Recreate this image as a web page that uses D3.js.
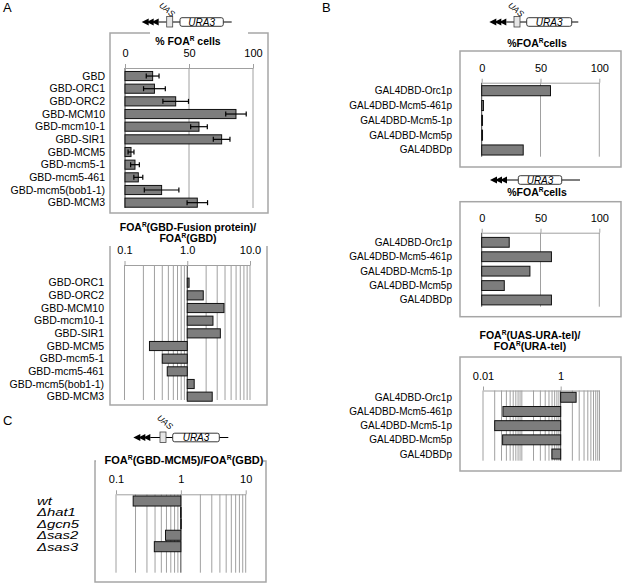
<!DOCTYPE html>
<html><head><meta charset="utf-8">
<script src="https://cdn.jsdelivr.net/npm/d3@7"></script>
<style>body{margin:0;background:#fff} text{font-family:"Liberation Sans",Arial,Helvetica,sans-serif}</style>
</head><body><svg id="c" width="624" height="584"></svg>
<script>
// ---------- DATA ----------
const a1Categories = ["GBD","GBD-ORC1","GBD-ORC2","GBD-MCM10","GBD-mcm10-1","GBD-SIR1","GBD-MCM5","GBD-mcm5-1","GBD-mcm5-461","GBD-mcm5(bob1-1)","GBD-MCM3"];
const a1Values = [21.6, 23, 39.6, 86.7, 57.8, 75.5, 4.7, 7.8, 10.4, 28.6, 56.5];
const a1Errors = [5, 8.5, 10, 8, 6.5, 6.5, 2.3, 3.4, 3.5, 13.5, 8];
const a1Ticks = [0, 50, 100];

const a2Categories = ["", "GBD-ORC1","GBD-ORC2","GBD-MCM10","GBD-mcm10-1","GBD-SIR1","GBD-MCM5","GBD-mcm5-1","GBD-mcm5-461","GBD-mcm5(bob1-1)","GBD-MCM3"];
const a2Values = [null, 1.07, 1.8, 3.85, 2.57, 3.37, 0.25, 0.40, 0.48, 1.29, 2.5];
const a2Ticks = [0.1, 1, 10];
const a2TickLabels = ["0.1", "1.0", "10.0"];

const bCategories = ["GAL4DBD-Orc1p","GAL4DBD-Mcm5-461p","GAL4DBD-Mcm5-1p","GAL4DBD-Mcm5p","GAL4DBDp"];
const b1Values = [58.5, 1.5, 0.7, 0.7, 35.3];
const b2Values = [23.4, 59.3, 41, 19.2, 59.3];
const b3Values = [2.5, 0.0326, 0.02, 0.032, 0.595];
const bTicks = [0, 50, 100];
const b3Ticks = [0.01, 1];
const b3TickLabels = ["0.01", "1"];

const cCategories = ["wt","\u0394hat1","\u0394gcn5","\u0394sas2","\u0394sas3"];
const cValues = [0.184, 0.99, 0.995, 0.58, 0.39];
const cTicks = [0.1, 1, 10];
const cTickLabels = ["0.1", "1", "10"];

// ---------- DRAW ----------
const svg = d3.select("#c");
const BAR_FILL = "#7d7d7d", BOX = "#a6a6a6", GRID = "#a0a0a0", AXIS_DARK = "#404040";

function richText(g, x, y, str, size, weight, anchor) {
  const t = g.append("text").attr("x", x).attr("y", y).attr("font-size", size)
    .attr("font-weight", weight || "normal").attr("text-anchor", anchor || "middle");
  const parts = str.split("^R");
  parts.forEach((p, i) => {
    if (i > 0) {
      t.append("tspan").attr("font-size", size * 0.62).attr("dy", -size * 0.38).text("R");
      t.append("tspan").attr("dy", size * 0.38).text(p);
    } else t.append("tspan").text(p);
  });
  return t;
}

function frame(x0, y0, x1, y1) {
  svg.append("rect").attr("x", x0).attr("y", y0).attr("width", x1 - x0).attr("height", y1 - y0)
    .attr("fill", "none").attr("stroke", BOX).attr("stroke-width", 1.5);
}
function whiteBg(x0, y0, x1, y1) {
  svg.append("rect").attr("x", x0).attr("y", y0).attr("width", x1 - x0).attr("height", y1 - y0).attr("fill", "#fff");
}

function barChart(o) {
  const g = svg.append("g");
  const y = d3.scaleBand().domain(o.cats).range(o.yRange).paddingInner(o.pad).paddingOuter(o.pad / 2);
  const x = o.x;
  g.selectAll(".grid").data(o.grid).join("line")
    .attr("x1", d => x(d)).attr("x2", d => x(d))
    .attr("y1", o.axisY).attr("y2", o.gridBottom)
    .attr("stroke", d => d === o.base ? AXIS_DARK : GRID).attr("stroke-width", 1);
  const ax = d3.axisTop(x).tickValues(o.ticks).tickSize(4).tickSizeOuter(0).tickPadding(7)
    .tickFormat((d, i) => o.tickLabels[i]);
  const axg = g.append("g").attr("transform", `translate(0,${o.axisY})`).call(ax);
  axg.select(".domain").attr("stroke", GRID);
  axg.selectAll(".tick line").attr("stroke", GRID);
  axg.selectAll(".tick text").attr("font-size", 11).attr("fill", "#000")
    .attr("font-family", '"Liberation Sans",Arial,sans-serif');
  const data = o.cats.map((c, i) => ({ c, v: o.vals[i], e: o.errs ? o.errs[i] : null }));
  g.selectAll(".bar").data(data.filter(d => d.v != null)).join("rect")
    .attr("x", d => Math.min(x(d.v), x(o.base)))
    .attr("width", d => Math.max(0.6, Math.abs(x(d.v) - x(o.base))))
    .attr("y", d => y(d.c)).attr("height", y.bandwidth())
    .attr("fill", BAR_FILL).attr("stroke", "#111").attr("stroke-width", 1);
  if (o.errs) {
    const eg = g.selectAll(".err").data(data).join("g");
    eg.append("line").attr("x1", d => x(d.v - d.e)).attr("x2", d => x(d.v + d.e))
      .attr("y1", d => y(d.c) + y.bandwidth() / 2).attr("y2", d => y(d.c) + y.bandwidth() / 2)
      .attr("stroke", "#000").attr("stroke-width", 1.2);
    [-1, 1].forEach(s => {
      eg.append("line").attr("x1", d => x(d.v + s * d.e)).attr("x2", d => x(d.v + s * d.e))
        .attr("y1", d => y(d.c) + y.bandwidth() / 2 - 2.5).attr("y2", d => y(d.c) + y.bandwidth() / 2 + 2.5)
        .attr("stroke", "#000").attr("stroke-width", 1.2);
    });
  }
  const labs = g.selectAll(".lab").data(o.cats).join("text")
    .attr("dy", "0.35em")
    .attr("text-anchor", o.labelAnchor || "end").attr("font-size", o.labelSize || 10)
    .attr("font-style", o.italic ? "italic" : "normal").attr("fill", "#000").text(d => d);
  if (o.stretch) {
    labs.attr("transform", d => `translate(${o.labelX},${y(d) + y.bandwidth() / 2}) scale(${o.stretch},1)`);
  } else {
    labs.attr("x", o.labelX).attr("y", d => y(d) + y.bandwidth() / 2);
  }
}

function construct(tip, y, uas, uasLabel, lineEnd, uraX0, uraX1) {
  const g = svg.append("g");
  for (let k = 0; k < 3; k++) {
    const t = tip + k * 5;
    g.append("path").attr("d", `M${t},${y} L${t + 7},${y - 3.5} L${t + 7},${y + 3.5} Z`).attr("fill", "#000");
  }
  const lineStart = tip + 17;
  if (uas) {
    g.append("line").attr("x1", lineStart).attr("x2", uas).attr("y1", y).attr("y2", y).attr("stroke", "#000");
    g.append("line").attr("x1", uas + 6).attr("x2", uraX0).attr("y1", y).attr("y2", y).attr("stroke", "#000");
    g.append("rect").attr("x", uas).attr("y", y - 5.5).attr("width", 6).attr("height", 10.5)
      .attr("fill", "#e6e6e6").attr("stroke", "#444").attr("stroke-width", 0.8);
    g.append("text").attr("transform", `translate(${uasLabel[0]},${uasLabel[1]}) rotate(40)`)
      .attr("text-anchor", "middle").attr("dy", "0.35em").attr("font-size", 8.5).attr("font-style", "italic").text("UAS");
  } else {
    g.append("line").attr("x1", lineStart).attr("x2", uraX0).attr("y1", y).attr("y2", y).attr("stroke", "#000");
  }
  g.append("line").attr("x1", uraX1).attr("x2", lineEnd).attr("y1", y).attr("y2", y).attr("stroke", "#000");
  g.append("rect").attr("x", uraX0).attr("y", y - 4.3).attr("width", uraX1 - uraX0).attr("height", 8.6)
    .attr("rx", 2).attr("fill", "#fff").attr("stroke", "#222").attr("stroke-width", 0.9);
  g.append("text").attr("x", (uraX0 + uraX1) / 2).attr("y", y + 3.6).attr("text-anchor", "middle")
    .attr("font-size", 10).attr("font-style", "italic").text("URA3");
}

// Panel letters
svg.append("text").attr("x", 3).attr("y", 12).attr("font-size", 13).text("A");
svg.append("text").attr("x", 322).attr("y", 12).attr("font-size", 13).text("B");
svg.append("text").attr("x", 3).attr("y", 425).attr("font-size", 13).text("C");

// Constructs
construct(141.7, 22, 166.7, [167, 9.5], 231.7, 180, 223.3);
construct(489.3, 22, 514, [516, 9.5], 578.3, 526.7, 571.7);
construct(490, 180, null, null, 580, 518.3, 561.7);
construct(133.3, 437.5, 160, [165, 422], 228.3, 172.7, 219.3);

// ---- Panel A chart 1 ----
frame(110, 33, 268, 213);
whiteBg(150, 30, 248, 48);
richText(svg, 188, 45, "% FOA^R cells", 10.5, "bold");
barChart({
  cats: a1Categories, vals: a1Values, errs: a1Errors,
  x: d3.scaleLinear().domain([0, 100]).range([125, 253]),
  yRange: [69.7, 209], pad: 0.28, axisY: 68, gridBottom: 208,
  grid: a1Ticks, base: 0, ticks: a1Ticks, tickLabels: a1Ticks.map(String), labelX: 105, labelSize: 10.5
});

// ---- Panel A chart 2 ----
svg.append("path").attr("d", "M110,246 V405 H267 V246").attr("fill", "none").attr("stroke", BOX).attr("stroke-width", 1.5);
richText(svg, 188, 231, "FOA^R(GBD-Fusion protein)/", 10.5, "bold");
richText(svg, 188, 242, "FOA^R(GBD)", 10.5, "bold");
const xA2 = d3.scaleLog().domain([0.1, 10]).range([124.5, 250]);
barChart({
  cats: a2Categories, vals: a2Values,
  x: xA2, yRange: [263.7, 403], pad: 0.28, axisY: 265, gridBottom: 400,
  grid: xA2.ticks(), base: 1, ticks: a2Ticks, tickLabels: a2TickLabels, labelX: 104, labelSize: 10.5
});

// ---- Panel B chart 1 ----
richText(svg, 537, 46.5, "%FOA^Rcells", 10.5, "bold");
frame(460, 51, 621, 167);
barChart({
  cats: bCategories, vals: b1Values,
  x: d3.scaleLinear().domain([0, 100]).range([481.7, 599.3]),
  yRange: [83.3, 157.4], pad: 0.32, axisY: 82.7, gridBottom: 156.7,
  grid: bTicks, base: 0, ticks: bTicks, tickLabels: bTicks.map(String), labelX: 452
});

// ---- Panel B chart 2 ----
richText(svg, 537, 195.5, "%FOA^Rcells", 10.5, "bold");
frame(460, 201.7, 621, 316.7);
barChart({
  cats: bCategories, vals: b2Values,
  x: d3.scaleLinear().domain([0, 100]).range([481.7, 599.3]),
  yRange: [235.1, 307.2], pad: 0.32, axisY: 232.7, gridBottom: 306.7,
  grid: bTicks, base: 0, ticks: bTicks, tickLabels: bTicks.map(String), labelX: 452
});

// ---- Panel B chart 3 ----
richText(svg, 530, 338.5, "FOA^R(UAS-URA-tel)/", 10.5, "bold");
richText(svg, 530, 349.5, "FOA^R(URA-tel)", 10.5, "bold");
frame(460, 357, 621, 471);
const xB3 = d3.scaleLog().domain([0.01, 10]).range([483, 599.5]);
barChart({
  cats: bCategories, vals: b3Values,
  x: xB3, yRange: [390.2, 461.1], pad: 0.3, axisY: 390.5, gridBottom: 460.7,
  grid: xB3.ticks(), base: 1, ticks: b3Ticks, tickLabels: b3TickLabels, labelX: 452
});

// ---- Panel C ----
frame(95, 461, 266, 582);
whiteBg(96, 452, 263, 470);
richText(svg, 184, 464, "FOA^R(GBD-MCM5)/FOA^R(GBD)", 11, "bold");
const xC = d3.scaleLog().domain([0.1, 10]).range([116, 245.7]);
barChart({
  cats: cCategories, vals: cValues,
  x: xC, yRange: [495.3, 552.4], pad: 0.12, axisY: 494.3, gridBottom: 572.7,
  grid: xC.ticks(), base: 1, ticks: cTicks, tickLabels: cTickLabels, labelX: 37,
  labelAnchor: "start", italic: true, labelSize: 11, stretch: 1.35
});
</script></body></html>
